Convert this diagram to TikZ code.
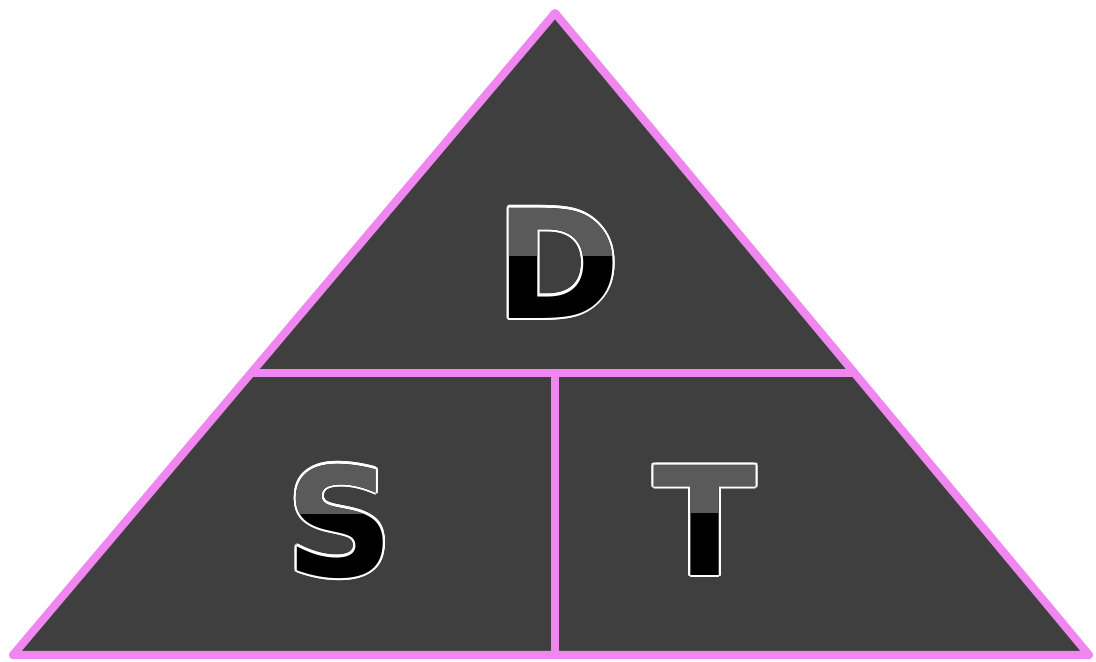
\documentclass[tikz,border=0pt]{standalone}
\usepackage{fontspec}
\setmainfont{DejaVu Sans}
\usetikzlibrary{positioning}
\definecolor{pinkline}{RGB}{240,135,240}
\definecolor{panel}{RGB}{63,63,63}
\definecolor{upper}{RGB}{90,90,90}
\tikzset{
  edge/.style={draw=pinkline, line width=4.6pt, line join=round, line cap=round},
  letter/.style={font=\fontsize{86}{86}\selectfont\bfseries, inner sep=0pt},
}
% letter: white rim, black body, grey upper half
\newcommand{\glossy}[3]{%
  \foreach \a in {0,20,...,340}
    \node[letter, text=white, shift={(\a:1.2pt)}] at (#2) {#3};
  \node[letter, text=black] (#1) at (#2) {#3};
  \begin{scope}
    \clip ([shift={(-3cm,0.15cm)}]#1.center) rectangle ([shift={(3cm,3cm)}]#1.center);
    \node[letter, text=upper] at (#2) {#3};
  \end{scope}
}

\begin{document}
\begin{tikzpicture}[x=0.02cm,y=-0.02cm]
    \useasboundingbox (0,0) rectangle (1096,662);
    \coordinate (top) at (555,13);
    \coordinate (bl) at (13,655);
    \coordinate (br) at (1089,655);
    \coordinate (ml) at (252,373);
    \coordinate (mr) at (854,373);
    \coordinate (mid) at (555,373);
    \coordinate (bm) at (555,655);

    \fill[panel] (top) -- (br) -- (bl) -- cycle;
    \draw[edge] (top) -- (br) -- (bl) -- cycle;
    \draw[edge] (ml) -- (mr);
    \draw[edge] (mid) -- (bm);

    \glossy{D}{558,263}{D}
    \glossy{S}{340,521}{S}
    \glossy{T}{705,520}{T}
\end{tikzpicture}
\end{document}
